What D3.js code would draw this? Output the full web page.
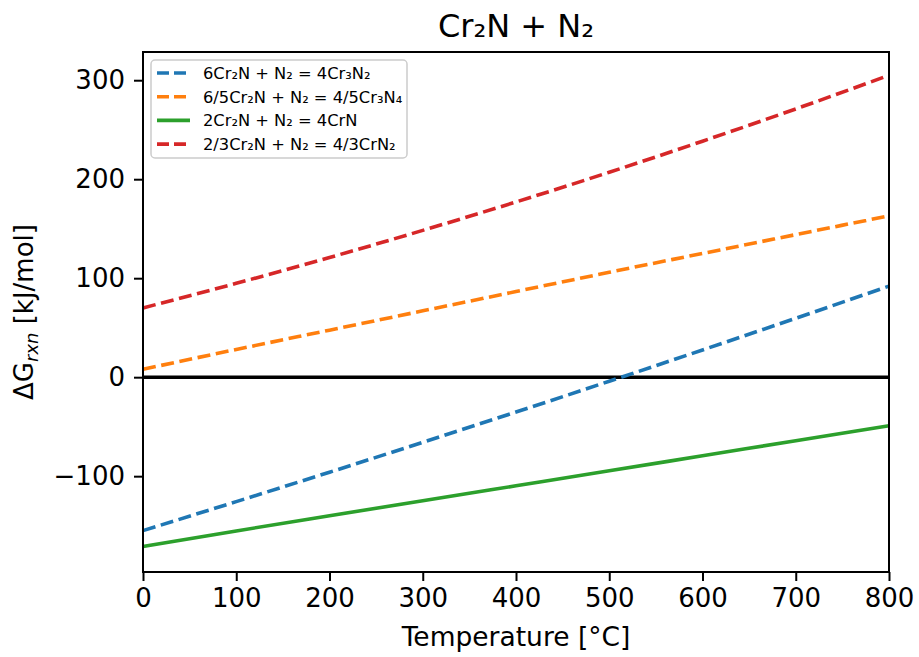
<!DOCTYPE html>
<html><head><meta charset="utf-8">
<script src="https://cdn.jsdelivr.net/npm/d3@7"></script>
<style>
body{margin:0;background:#fff;}
svg{font-family:"DejaVu Sans",sans-serif;}
</style></head>
<body><svg id="c" width="919" height="657"></svg>
<script>
const temps = [0,100,200,300,400,500,600,700,800];
const seriesNames = ["6Cr₂N + N₂ = 4Cr₃N₂","6/5Cr₂N + N₂ = 4/5Cr₃N₄","2Cr₂N + N₂ = 4CrN","2/3Cr₂N + N₂ = 4/3CrN₂"];
const blueVals = [-155,-125.7,-96,-65.8,-35.2,-4.1,27.5,59.5,92];
const orangeVals = [8,28,47.5,67,86.5,106,125,144,163];
const greenVals = [-171,-155.3,-140,-124.8,-109.7,-94.6,-79.4,-64.2,-49];
const redVals = [70,94.8,120.9,148.3,177,207,238.4,271,305];
const colors = ["#1f77b4","#ff7f0e","#2ca02c","#d62728"];
const dashed = [true,true,false,true];
const xTicks = [0,100,200,300,400,500,600,700,800];
const yTicks = [-100,0,100,200,300];

const svg = d3.select("#c");
const L=143,R=889,T=52,B=572;
const x = d3.scaleLinear().domain([0,800]).range([L,R]);
const y = d3.scaleLinear().domain([-196.8,328.5]).range([B,T]);
const DASH = "13,5.6";

const series=[blueVals,orangeVals,greenVals,redVals];

// zero line
svg.append("line").attr("x1",L).attr("x2",R).attr("y1",y(0)).attr("y2",y(0))
  .attr("stroke","#000").attr("stroke-width",3.6);

const line = d3.line().x((d,i)=>x(temps[i])).y(d=>y(d)).curve(d3.curveMonotoneX);
series.forEach((s,k)=>{
  svg.append("path").datum(s).attr("d",line).attr("fill","none")
    .attr("stroke",colors[k]).attr("stroke-width",3.6)
    .attr("stroke-dasharray",dashed[k]?DASH:null);
});

// axes
const xa = svg.append("g").attr("transform",`translate(0,${B})`)
  .call(d3.axisBottom(x).tickValues(xTicks).tickSize(9).tickPadding(8).tickFormat(d3.format("d")));
const ya = svg.append("g").attr("transform",`translate(${L},0)`)
  .call(d3.axisLeft(y).tickValues(yTicks).tickSize(9).tickPadding(9).tickFormat(d=>d<0?"\u2212"+Math.abs(d):String(d)));
[xa,ya].forEach(g=>{
  g.select(".domain").remove();
  g.selectAll(".tick line").attr("stroke","#000").attr("stroke-width",2);
  g.selectAll(".tick text").attr("font-size",26).attr("fill","#000").attr("font-family","DejaVu Sans");
});
svg.append("rect").attr("x",L).attr("y",T).attr("width",R-L).attr("height",B-T)
  .attr("fill","none").attr("stroke","#000").attr("stroke-width",2);

// title
svg.append("text").attr("x",(L+R)/2).attr("y",37).attr("text-anchor","middle")
  .attr("font-size",32).text("Cr₂N + N₂");
// x label
svg.append("text").attr("x",(L+R)/2).attr("y",646).attr("text-anchor","middle")
  .attr("font-size",26.5).text("Temperature [°C]");
// y label
const yl = svg.append("text").attr("transform",`translate(33,${(T+B)/2}) rotate(-90)`)
  .attr("text-anchor","middle").attr("font-size",26);
yl.append("tspan").text("ΔG");
yl.append("tspan").attr("font-style","italic").attr("font-size",18).attr("dy",5).text("rxn");
yl.append("tspan").attr("dy",-5).text(" [kJ/mol]");

// legend
const lg = svg.append("g");
lg.append("rect").attr("x",151).attr("y",60).attr("width",256).attr("height",98).attr("rx",4)
  .attr("fill","#fff").attr("fill-opacity",0.8).attr("stroke","#ccc").attr("stroke-width",1.5);
seriesNames.forEach((n,k)=>{
  const yy = 73 + k*23.7;
  lg.append("line").attr("x1",157).attr("x2",190).attr("y1",yy).attr("y2",yy)
    .attr("stroke",colors[k]).attr("stroke-width",3.6).attr("stroke-dasharray",dashed[k]?"12,5":null);
  lg.append("text").attr("x",203).attr("y",yy+6).attr("font-size",16.3).text(n);
});
</script></body></html>
